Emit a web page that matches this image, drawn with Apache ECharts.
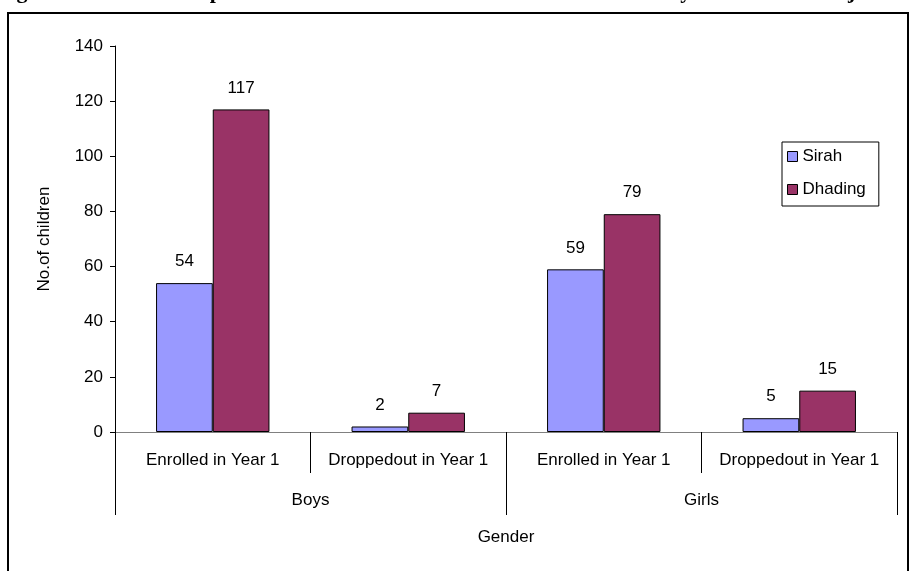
<!DOCTYPE html>
<html>
<head>
<meta charset="utf-8">
<script src="https://cdn.jsdelivr.net/npm/echarts@6/dist/echarts.min.js"></script>
<style>
  html, body { margin: 0; padding: 0; background: #fff; }
  #chart { width: 910px; height: 571px; }
</style>
</head>
<body>
<div id="chart"></div>
<script>
// Children enrolled and dropped out in Year 1, by gender and project area
const categories = ['Enrolled in Year 1', 'Droppedout in Year 1', 'Enrolled in Year 1', 'Droppedout in Year 1'];
const genderGroups = ['Boys', 'Girls'];
const seriesNames = ['Sirah', 'Dhading'];
const sirahValues = [54, 2, 59, 5];
const dhadingValues = [117, 7, 79, 15];
const yTicks = { min: 0, max: 140, interval: 20 };
const titleText = 'Figure 4: Overall Comparison of Enrolment and Retention of Children by Gender and Project';

const FONT = '"Liberation Sans", Arial, sans-serif';
const FS = 17;

const chart = echarts.init(document.getElementById('chart'), null, { renderer: 'canvas' });

const labelStyle = {
  show: true,
  position: 'top',
  distance: 13,
  color: '#000',
  fontFamily: FONT,
  fontSize: FS
};

chart.setOption({
  animation: false,
  backgroundColor: '#fff',
  textStyle: { fontFamily: FONT },
  graphic: [
    {
      type: 'text',
      left: -3,
      top: -19,
      style: {
        text: titleText,
        font: 'bold 22px "Liberation Serif", "Times New Roman", serif',
        fill: '#000'
      },
      z: 10
    },
    {
      type: 'rect',
      shape: { x: 8, y: 13, width: 900, height: 600 },
      style: { fill: 'none', stroke: '#000', lineWidth: 2 },
      silent: true,
      z: 0
    }
  ],
  grid: { left: 115, right: 13, top: 46, bottom: 139, containLabel: false },
  legend: {
    data: seriesNames,
    orient: 'vertical',
    left: 782,
    top: 142,
    icon: 'rect',
    itemWidth: 10,
    itemHeight: 10,
    itemGap: 16,
    padding: [6, 13, 8, 5],
    borderColor: '#000',
    borderWidth: 1,
    backgroundColor: '#fff',
    textStyle: { fontFamily: FONT, fontSize: FS, color: '#000' },
    itemStyle: { borderColor: '#000', borderWidth: 1 }
  },
  xAxis: [
    {
      type: 'category',
      data: categories,
      position: 'bottom',
      axisLine: { show: true, lineStyle: { color: '#808080', width: 1 } },
      axisTick: { show: true, length: 41, lineStyle: { color: '#000' } },
      axisLabel: { margin: 20, color: '#000', fontFamily: FONT, fontSize: FS, interval: 0 }
    },
    {
      type: 'category',
      data: genderGroups,
      position: 'bottom',
      offset: 0,
      axisLine: { show: false },
      axisTick: { show: true, length: 83, lineStyle: { color: '#000' } },
      axisLabel: { margin: 60, color: '#000', fontFamily: FONT, fontSize: FS, interval: 0 },
      name: 'Gender',
      nameLocation: 'middle',
      nameGap: 97,
      nameTextStyle: { color: '#000', fontFamily: FONT, fontSize: FS }
    }
  ],
  yAxis: {
    type: 'value',
    min: yTicks.min,
    max: yTicks.max,
    interval: yTicks.interval,
    name: 'No.of children',
    nameLocation: 'middle',
    nameGap: 62,
    nameRotate: 90,
    nameTextStyle: { color: '#000', fontFamily: FONT, fontSize: FS },
    axisLine: { show: true, lineStyle: { color: '#000', width: 1 } },
    axisTick: { show: true, length: 5, lineStyle: { color: '#000' } },
    axisLabel: { margin: 12, color: '#000', fontFamily: FONT, fontSize: FS },
    splitLine: { show: false }
  },
  series: [
    {
      name: seriesNames[0],
      type: 'bar',
      xAxisIndex: 0,
      data: sirahValues,
      barWidth: '29%',
      barGap: '0%',
      itemStyle: { color: '#9999FF', borderColor: '#000', borderWidth: 1 },
      label: labelStyle
    },
    {
      name: seriesNames[1],
      type: 'bar',
      xAxisIndex: 0,
      data: dhadingValues,
      barWidth: '29%',
      barGap: '0%',
      itemStyle: { color: '#993366', borderColor: '#000', borderWidth: 1 },
      label: labelStyle
    }
  ]
});
</script>
</body>
</html>
